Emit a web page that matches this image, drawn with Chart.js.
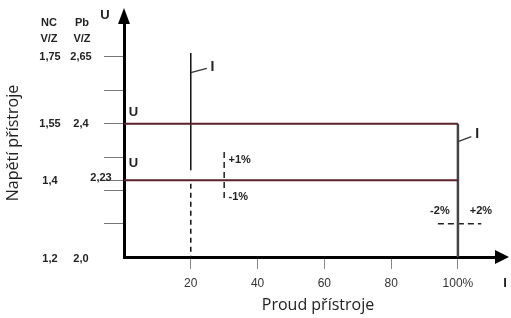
<!DOCTYPE html>
<html>
<head>
<meta charset="utf-8">
<script src="https://cdn.jsdelivr.net/npm/chart.js@4/dist/chart.umd.min.js"></script>
<style>
	html, body { margin: 0; padding: 0; background: #fff; }
	#wrap { width: 511px; height: 318px; }
</style>
</head>
<body>
<div id="wrap"><canvas id="chart" width="511" height="318"></canvas></div>
<script>
// axis ticks
var xTickValues = [20, 40, 60, 80, 100];
var xTickLabels = ['20', '40', '60', '80', '100%'];
var yTickValues = [2.1, 2.2, 2.23, 2.3, 2.4, 2.5, 2.6];

// voltage labels left of the axis (NC and Pb columns, V/Z)
var labelLevels = [2.0, 2.23, 2.4, 2.6];
var ncLabels = ['1,2', '1,4', '1,55', '1,75'];
var pbLabels = ['2,0', '2,23', '2,4', '2,65'];

// characteristic lines (current %, voltage V/Z)
var levelCurrent = [0, 100];
var upperVoltage = [2.4, 2.4];
var lowerVoltage = [2.23, 2.23];
var endCurrent = [100, 100];
var endVoltage = [2.4, 2.0];
var startCurrent = [20, 20];
var startSolidVoltage = [2.612, 2.26];
var startDashedVoltage = [2.22, 2.0];
var tol1Current = [30, 30];
var tol1Voltage = [2.315, 2.17];
var tol2Current = [94, 107];
var tol2Voltage = [2.1, 2.1];

function pts(xs, ys) {
	return xs.map(function(x, i) { return {x: x, y: ys[i]}; });
}

function lineSet(xs, ys, color, width, dash) {
	return {
		data: pts(xs, ys),
		showLine: true,
		borderColor: color,
		borderWidth: width,
		borderDash: dash || [],
		pointRadius: 0,
		fill: false
	};
}

var txt = '#222';

var extras = {
	id: 'extras',
	afterDraw: function(chart) {
		var ctx = chart.ctx;
		var xs = chart.scales.x, ys = chart.scales.y;
		var area = chart.chartArea;
		var X = function(v) { return xs.getPixelForValue(v); };
		var Y = function(v) { return ys.getPixelForValue(v); };

		ctx.save();
		ctx.fillStyle = '#000';
		// arrow heads
		ctx.beginPath();
		ctx.moveTo(area.left, 8);
		ctx.lineTo(area.left - 6, area.top + 4);
		ctx.lineTo(area.left + 6, area.top + 4);
		ctx.closePath();
		ctx.fill();
		ctx.beginPath();
		ctx.moveTo(area.right + 9, area.bottom);
		ctx.lineTo(area.right - 5, area.bottom - 7);
		ctx.lineTo(area.right - 5, area.bottom + 7);
		ctx.closePath();
		ctx.fill();

		// leaders for the "I" labels
		ctx.strokeStyle = '#333';
		ctx.lineWidth = 1.2;
		ctx.beginPath();
		ctx.moveTo(X(20), Y(2.553));
		ctx.lineTo(X(24.8), Y(2.566));
		ctx.moveTo(X(100), Y(2.346));
		ctx.lineTo(X(104), Y(2.361));
		ctx.stroke();

		ctx.fillStyle = txt;
		ctx.textBaseline = 'middle';
		ctx.textAlign = 'center';

		// column headers
		ctx.font = 'bold 11px "Liberation Sans", sans-serif';
		ctx.fillText('NC', 49, 23);
		ctx.fillText('Pb', 82, 23);
		ctx.fillText('V/Z', 49, 39);
		ctx.fillText('V/Z', 82, 39);

		// voltage labels
		labelLevels.forEach(function(v, i) {
			var y = Y(v);
			var dy = v === 2.0 ? 2 : (v === 2.23 ? 1 : 0);
			ctx.fillText(ncLabels[i], 50, y + dy);
			var px = v === 2.23 ? 101 : 81;
			ctx.fillText(pbLabels[i], px, y + (v === 2.23 ? -2 : dy));
		});

		// axis names
		ctx.font = 'bold 13px "Liberation Sans", sans-serif';
		ctx.fillText('U', 105, 15);
		ctx.fillText('I', 505, 283);

		// U labels in the plot
		ctx.fillText('U', X(2.8), Y(2.435));
		ctx.fillText('U', X(2.8), Y(2.28));

		// I labels
		ctx.font = 'bold 14px "Liberation Sans", sans-serif';
		ctx.fillText('I', X(26.5), Y(2.57));
		ctx.fillText('I', X(105.8), Y(2.37));

		// tolerances
		ctx.font = 'bold 11px "Liberation Sans", sans-serif';
		ctx.textAlign = 'left';
		ctx.fillText('+1%', X(31.3), Y(2.291));
		ctx.fillText('-1%', X(31.3), Y(2.18));
		ctx.textAlign = 'center';
		ctx.fillText('-2%', X(94.6), Y(2.138));
		ctx.fillText('+2%', X(106.9), Y(2.138));

		// axis titles
		ctx.font = '16px "Open Sans", sans-serif';
		ctx.fillText('Proud přístroje', 318, 305);
		ctx.translate(13, 143);
		ctx.rotate(-Math.PI / 2);
		ctx.fillText('Napětí přístroje', 0, 0);
		ctx.restore();
	}
};

new Chart(document.getElementById('chart').getContext('2d'), {
	type: 'scatter',
	data: {
		datasets: [
			lineSet(levelCurrent, upperVoltage, '#5a2228', 2),
			lineSet(levelCurrent, lowerVoltage, '#5a2228', 2),
			lineSet(endCurrent, endVoltage, '#444', 2.5),
			lineSet(startCurrent, startSolidVoltage, '#111', 1.5),
			lineSet(startCurrent, startDashedVoltage, '#111', 1.5, [5, 4]),
			lineSet(tol1Current, tol1Voltage, '#222', 1.5, [6, 4]),
			lineSet(tol2Current, tol2Voltage, '#222', 1.5, [6, 4])
		]
	},
	options: {
		responsive: false,
		animation: false,
		layout: { padding: { top: 20, right: 11, left: 0, bottom: 0 } },
		plugins: { legend: { display: false }, tooltip: { enabled: false } },
		scales: {
			x: {
				type: 'linear',
				min: 0,
				max: 112.6,
				afterBuildTicks: function(scale) {
					scale.ticks = xTickValues.map(function(v) { return {value: v}; });
				},
				afterFit: function(scale) { scale.height = 61; },
				border: { display: true, color: '#000', width: 3 },
				grid: { drawOnChartArea: false, drawTicks: true, tickLength: 12, color: '#888', lineWidth: 1 },
				ticks: {
					padding: 7,
					color: '#333',
					font: { size: 12, family: '"Liberation Sans", sans-serif' },
					maxRotation: 0,
					callback: function(value) {
						var i = xTickValues.indexOf(value);
						return i >= 0 ? xTickLabels[i] : '';
					}
				}
			},
			y: {
				type: 'linear',
				min: 2.0,
				max: 2.711,
				afterBuildTicks: function(scale) {
					scale.ticks = yTickValues.map(function(v) { return {value: v}; });
				},
				afterFit: function(scale) { scale.width = 124; },
				border: { display: true, color: '#000', width: 3 },
				grid: { drawOnChartArea: false, drawTicks: true, tickLength: 20, color: '#777', lineWidth: 1 },
				ticks: { display: false }
			}
		}
	},
	plugins: [extras]
});
</script>
</body>
</html>
